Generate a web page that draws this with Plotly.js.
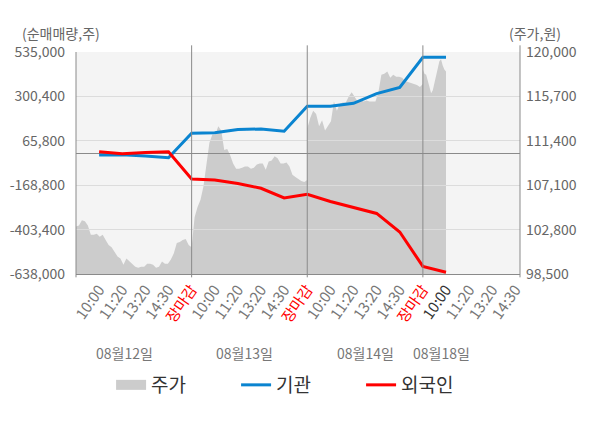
<!DOCTYPE html>
<html>
<head>
<meta charset="utf-8">
<script src="https://cdn.plot.ly/plotly-3.0.1.min.js"></script>
<style>
  html, body { margin: 0; padding: 0; background: #fff; }
  #chart { width: 600px; height: 428px; }
</style>
</head>
<body>
<div id="chart"></div>
<script>
// x-axis labels per trading day
const timeLabels = ['10:00', '11:20', '13:20', '14:30', '장마감']
const dateLabels = ['08월12일', '08월13일', '08월14일', '08월18일']

// intraday price (원), evenly sampled through each session
const day1Price = [103100, 103200, 103700, 103600, 103200, 102300, 102300, 102400, 102100, 102300,
  101800, 101300, 101100, 100700, 100200, 100000, 99400, 100000, 99700, 99500,
  99200, 99100, 99200, 99200, 99500, 99500, 99400, 99100, 99200, 99700,
  99500, 99500, 99900, 100500, 101500, 101600, 101800, 101900, 101300, 101100]
const day2Price = [101100, 104000, 105000, 105700, 107000, 108900, 111200, 112000, 112000, 112800,
  112400, 110500, 110600, 110000, 109200, 108700, 108700, 108800, 108900, 108900,
  108700, 108800, 109100, 109200, 109200, 108600, 109400, 109500, 109900, 109700,
  109200, 109200, 109300, 108900, 108100, 107900, 107700, 107500, 107400, 107600]
const day3Price = [112600, 113600, 114300, 114000, 112800, 113400, 112400, 112900, 113300, 115200,
  114300, 115000, 115100, 115100, 115700, 116100, 115600, 115200, 115400, 115200,
  115300, 115200, 115200, 115200, 116100, 117800, 117900, 118100, 117500, 117800,
  117600, 117600, 117500, 117200, 117100, 117000, 116900, 116800, 116600, 116900]
// last day, open until 10:00
const day4Price = [118300, 117900, 117800, 117300, 116600, 116000, 116300, 117000, 117900, 118400,
  119100, 119300, 118700, 118300, 118100]

// cumulative net buying (주) at each checkpoint: 10:00, 11:20, 13:20, 14:30, 장마감 ...
const instNet = [-9000, -7500, -14500, -23500, 106000,
  108600, 126000, 128000, 116000, 248000,
  249000, 264000, 315000, 348000, 507000,
  507000]
const foreignNet = [8000, -3000, 4000, 8000, -136000,
  -141000, -160000, -185000, -236000, -217000,
  -255000, -288000, -318000, -416000, -598000,
  -629000]

const volTicks = [-638000, -403400, -168800, 65800, 300400, 535000]
const priceTicks = [98500, 102800, 107100, 111400, 115700, 120000]

const perDay = timeLabels.length
const priceDays = [day1Price, day2Price, day3Price, day4Price]
const priceX = []
const priceY = []
priceDays.forEach((arr, d) => {
  const span = d < priceDays.length - 1 ? perDay : 1
  arr.forEach((v, i) => {
    priceX.push(d * perDay + (span * i) / (arr.length - 1))
    priceY.push(v)
  })
})
const netX = instNet.map((_, i) => i + 1)

const tickvals = []
const ticktext = []
dateLabels.forEach((_, d) => {
  timeLabels.forEach((t, k) => {
    tickvals.push(d * perDay + k + 1)
    if (k === perDay - 1) ticktext.push(`<span style="color:#ff0000">${t}</span>`)
    else if (d === dateLabels.length - 1 && k === 0) ticktext.push(`<span style="color:#333333">${t}</span>`)
    else ticktext.push(t)
  })
})

const fmt = (v) => v.toLocaleString('en-US')
const font = 'Noto Sans CJK KR, Noto Sans, sans-serif'

const data = [
  {
    x: priceX,
    y: priceY,
    type: 'scatter',
    mode: 'lines',
    fill: 'tozeroy',
    fillcolor: '#cccccc',
    line: { width: 0, color: '#cccccc' },
    xaxis: 'x',
    yaxis: 'y',
    showlegend: false,
    hoverinfo: 'skip',
  },
  {
    x: [null],
    y: [null],
    type: 'scatter',
    mode: 'lines',
    name: '주가',
    line: { width: 14, color: '#cccccc' },
    xaxis: 'x',
    yaxis: 'y2',
  },
  {
    x: netX,
    y: instNet,
    type: 'scatter',
    mode: 'lines',
    name: '기관',
    line: { width: 3, color: '#0a84d0' },
    xaxis: 'x',
    yaxis: 'y2',
  },
  {
    x: netX,
    y: foreignNet,
    type: 'scatter',
    mode: 'lines',
    name: '외국인',
    line: { width: 3, color: '#ff0000' },
    xaxis: 'x',
    yaxis: 'y2',
  },
]

const shapes = [
  {
    type: 'rect', xref: 'paper', yref: 'paper', x0: 0, x1: 1, y0: 0, y1: 1,
    fillcolor: '#f4f4f4', line: { width: 0 }, layer: 'below',
  },
]
;[1, 2, 3].forEach((d) => {
  shapes.push({
    type: 'line', xref: 'x', yref: 'paper', x0: d * perDay, x1: d * perDay, y0: -0.015, y1: 1.03,
    line: { color: '#8a8a8a', width: 1 }, layer: 'above',
  })
})
shapes.push({
  type: 'line', xref: 'paper', yref: 'paper', x0: 1, x1: 1, y0: -0.015, y1: 1.03,
  line: { color: '#8a8a8a', width: 1 }, layer: 'above',
})
shapes.push({
  type: 'line', xref: 'paper', yref: 'paper', x0: 0, x1: 0, y0: -0.015, y1: 1,
  line: { color: '#8a8a8a', width: 1 }, layer: 'above',
})

const dateX = [2.1, 7.3, 12.5, 15.8]
const annotations = dateLabels.map((t, i) => ({
  text: t, xref: 'x', yref: 'paper', x: dateX[i], y: -0.356,
  xanchor: 'center', yanchor: 'middle', showarrow: false,
  font: { family: font, size: 14, color: '#777777' },
}))
annotations.push({
  text: '(순매매량,주)', xref: 'paper', yref: 'paper', x: -0.034, y: 1.086,
  xanchor: 'center', yanchor: 'middle', showarrow: false,
  font: { family: font, size: 14, color: '#666666' },
})
annotations.push({
  text: '(주가,원)', xref: 'paper', yref: 'paper', x: 1.034, y: 1.086,
  xanchor: 'center', yanchor: 'middle', showarrow: false,
  font: { family: font, size: 14, color: '#666666' },
})

const layout = {
  width: 600,
  height: 428,
  margin: { l: 76, r: 80, t: 52, b: 154 },
  paper_bgcolor: '#ffffff',
  plot_bgcolor: 'rgba(0,0,0,0)',
  font: { family: font, color: '#666666' },
  xaxis: {
    range: [0, 19.2],
    tickmode: 'array',
    tickvals: tickvals,
    ticktext: ticktext,
    tickangle: -55,
    ticks: '',
    tickfont: { family: font, size: 15, color: '#777777' },
    showgrid: false,
    zeroline: false,
    showline: true,
    linecolor: '#8a8a8a',
    fixedrange: true,
  },
  yaxis: {
    side: 'right',
    range: [priceTicks[0], priceTicks[priceTicks.length - 1]],
    tickmode: 'array',
    tickvals: priceTicks,
    ticktext: priceTicks.map(fmt),
    tickfont: { family: font, size: 14, color: '#666666' },
    ticklabelstandoff: 5,
    showgrid: false,
    zeroline: false,
    showline: false,
    fixedrange: true,
  },
  yaxis2: {
    side: 'left',
    anchor: 'x',
    range: [volTicks[0], volTicks[volTicks.length - 1]],
    tickmode: 'array',
    tickvals: volTicks,
    ticktext: volTicks.map(fmt),
    tickfont: { family: font, size: 14, color: '#666666' },
    ticklabelstandoff: 10,
    showgrid: true,
    gridcolor: '#dcdcdc',
    gridwidth: 1,
    zeroline: true,
    zerolinecolor: '#8a8a8a',
    zerolinewidth: 1,
    showline: false,
    fixedrange: true,
  },
  showlegend: true,
  legend: {
    orientation: 'h',
    x: 0.079,
    xanchor: 'left',
    y: -0.5,
    yanchor: 'middle',
    entrywidth: 80,
    entrywidthmode: 'pixels',
    font: { family: font, size: 19, color: '#333333' },
    bgcolor: 'rgba(0,0,0,0)',
  },
  shapes: shapes,
  annotations: annotations,
  hovermode: false,
}

Plotly.newPlot('chart', data, layout, { displayModeBar: false, staticPlot: true })
</script>
</body>
</html>
